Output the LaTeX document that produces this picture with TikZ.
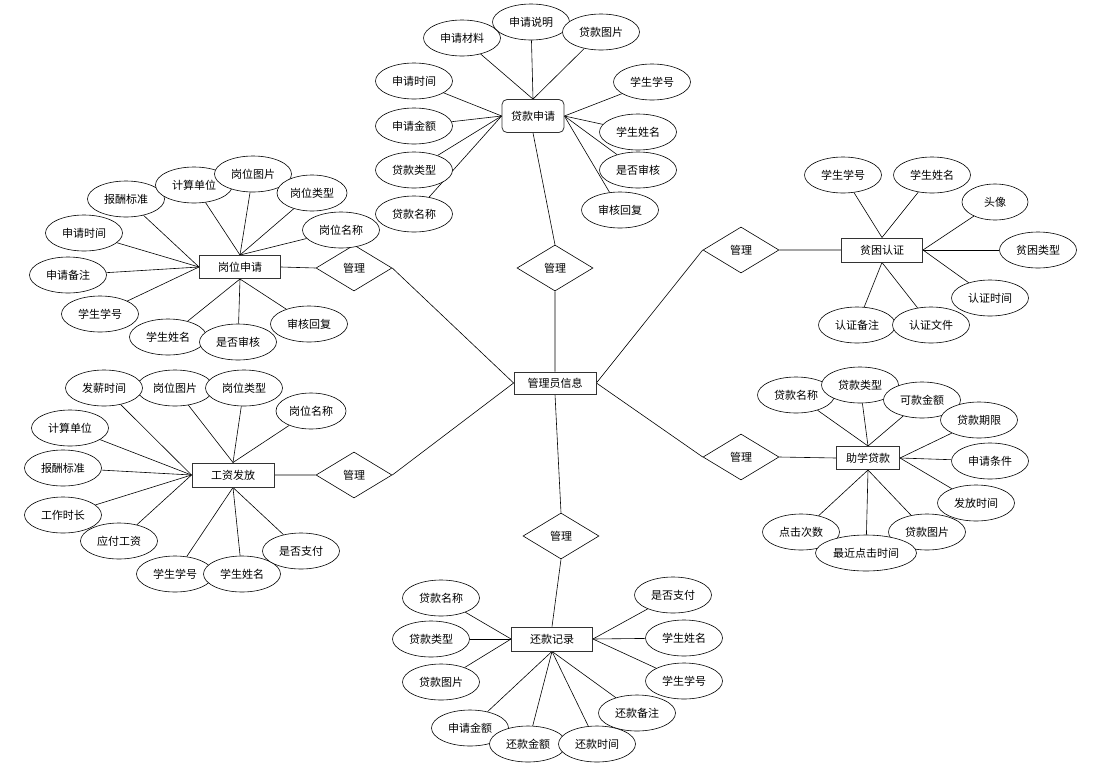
\documentclass[tikz,border=0pt]{standalone}
\usepackage{fontspec}
\newfontfamily\cjk{Noto Sans CJK SC}
\usetikzlibrary{shapes.geometric}
\pgfdeclarelayer{bg}
\pgfsetlayers{bg,main}
\begin{document}
\begin{tikzpicture}[x=1pt,y=-1pt,
  txt/.style={font=\cjk\fontsize{11}{13}\selectfont},
  attr/.style={ellipse, draw, fill=white, line width=0.6pt, minimum width=77pt, minimum height=36pt, inner sep=0pt, txt},
  ent/.style={rectangle, draw=black!80, line width=1pt, fill=white, minimum width=81pt, minimum height=23pt, inner sep=0pt, txt},
  rel/.style={diamond, draw, fill=white, line width=0.6pt, minimum width=76pt, minimum height=46pt, inner sep=0pt, txt},
  conn/.style={draw, line width=0.6pt}]
\useasboundingbox (0,0) rectangle (1104,777);

% central entity and relations
\node[ent, minimum width=82pt, minimum height=22pt, line width=0.8pt] (admin) at (555,383) {管理员信息};
\node[rel] (r1) at (555,268) {管理};
\node[rel] (r2) at (354,268) {管理};
\node[rel] (r3) at (354,475) {管理};
\node[rel] (r4) at (741,250) {管理};
\node[rel] (r5) at (741,457) {管理};
\node[rel] (r6) at (561,536) {管理};

% entities
\node[ent, rounded corners=5pt, minimum width=62pt, minimum height=33pt, line width=0.8pt] (dk) at (533,116) {贷款申请};
\node[ent] (gw) at (240,267) {岗位申请};
\node[ent, minimum width=82pt, minimum height=24pt] (gz) at (233,475) {工资发放};
\node[ent, minimum height=24pt] (pk) at (882,250) {贫困认证};
\node[ent, minimum width=63pt] (zx) at (868,458) {助学贷款};
\node[ent, minimum height=24pt, line width=0.8pt] (hk) at (552,639) {还款记录};

% 贷款申请 attributes
\node[attr] (dk1) at (462,38) {申请材料};
\node[attr] (dk2) at (531,22) {申请说明};
\node[attr] (dk3) at (601,32) {贷款图片};
\node[attr] (dk4) at (414,81) {申请时间};
\node[attr] (dk5) at (414,126) {申请金额};
\node[attr] (dk6) at (414,170) {贷款类型};
\node[attr] (dk7) at (414,214) {贷款名称};
\node[attr] (dk8) at (652,82) {学生学号};
\node[attr] (dk9) at (638,132) {学生姓名};
\node[attr] (dk10) at (638,170) {是否审核};
\node[attr] (dk11) at (620,210) {审核回复};

% 岗位申请 attributes
\node[attr] (gw1) at (126,199) {报酬标准};
\node[attr] (gw2) at (194,185) {计算单位};
\node[attr] (gw3) at (253,174) {岗位图片};
\node[attr, minimum width=70pt] (gw4) at (312,193) {岗位类型};
\node[attr] (gw5) at (341,230) {岗位名称};
\node[attr] (gw6) at (84,233) {申请时间};
\node[attr] (gw7) at (68,275) {申请备注};
\node[attr] (gw8) at (100,314) {学生学号};
\node[attr] (gw9) at (168,337) {学生姓名};
\node[attr] (gw10) at (238,342) {是否审核};
\node[attr] (gw11) at (309,324) {审核回复};

% 工资发放 attributes
\node[attr] (gz2) at (175,388) {岗位图片};
\node[attr] (gz1) at (104,388) {发薪时间};
\node[attr] (gz3) at (244,388) {岗位类型};
\node[attr, minimum width=70pt] (gz4) at (311,411) {岗位名称};
\node[attr] (gz5) at (70,428) {计算单位};
\node[attr] (gz6) at (63,468) {报酬标准};
\node[attr] (gz7) at (63,515) {工作时长};
\node[attr] (gz8) at (119,541) {应付工资};
\node[attr] (gz9) at (175,574) {学生学号};
\node[attr] (gz10) at (242,574) {学生姓名};
\node[attr] (gz11) at (301,551) {是否支付};

% 贫困认证 attributes
\node[attr] (pk1) at (843,175) {学生学号};
\node[attr] (pk2) at (932,175) {学生姓名};
\node[attr, minimum width=66pt] (pk3) at (995,202) {头像};
\node[attr] (pk4) at (1038,250) {贫困类型};
\node[attr] (pk5) at (990,298) {认证时间};
\node[attr] (pk6) at (857,325) {认证备注};
\node[attr] (pk7) at (931,325) {认证文件};

% 助学贷款 attributes
\node[attr] (zx1) at (796,395) {贷款名称};
\node[attr] (zx2) at (860,385) {贷款类型};
\node[attr] (zx3) at (922,400) {可款金额};
\node[attr] (zx4) at (979,420) {贷款期限};
\node[attr] (zx5) at (990,461) {申请条件};
\node[attr] (zx6) at (976,503) {发放时间};
\node[attr] (zx7) at (801,532) {点击次数};
\node[attr] (zx8) at (927,532) {贷款图片};
\node[attr, minimum width=101pt] (zx9) at (866,553) {最近点击时间};

% 还款记录 attributes
\node[attr] (hk1) at (441,598) {贷款名称};
\node[attr] (hk2) at (431,639) {贷款类型};
\node[attr] (hk3) at (441,682) {贷款图片};
\node[attr] (hk4) at (673,595) {是否支付};
\node[attr] (hk5) at (684,638) {学生姓名};
\node[attr] (hk6) at (684,681) {学生学号};
\node[attr] (hk7) at (470,728) {申请金额};
\node[attr] (hk8) at (528,744) {还款金额};
\node[attr] (hk9) at (597,744) {还款时间};
\node[attr] (hk10) at (637,713) {还款备注};

\begin{pgfonlayer}{bg}
\fill[white] (0,0) rectangle (1104,777);
% relations
\path[conn] (admin.north) -- (r1.south) (r1.north) -- (dk.south);
\path[conn] (admin.west) -- (r2.east) (r2.west) -- (gw.east);
\path[conn] (admin.west) -- (r3.east) (r3.west) -- (gz.east);
\path[conn] (admin.east) -- (r4.west) (r4.east) -- (pk.west);
\path[conn] (admin.east) -- (r5.west) (r5.east) -- (zx.west);
\path[conn] (admin.south) -- (r6.north) (r6.south) -- (hk.north);
% 贷款申请
\foreach \a in {dk1,dk2,dk3} \path[conn] (\a) -- (dk.north);
\foreach \a in {dk4,dk5,dk6,dk7} \path[conn] (\a) -- (dk.west);
\foreach \a in {dk8,dk9,dk10,dk11} \path[conn] (\a) -- (dk.east);
% 岗位申请
\foreach \a in {gw1,gw6,gw7,gw8} \path[conn] (\a) -- (gw.west);
\foreach \a in {gw2,gw3,gw4,gw5} \path[conn] (\a) -- (gw.north);
\foreach \a in {gw9,gw10,gw11} \path[conn] (\a) -- (gw.south);
% 工资发放
\foreach \a in {gz1,gz5,gz6,gz7,gz8} \path[conn] (\a) -- (gz.west);
\foreach \a in {gz2,gz3,gz4} \path[conn] (\a) -- (gz.north);
\foreach \a in {gz9,gz10,gz11} \path[conn] (\a) -- (gz.south);
% 贫困认证
\foreach \a in {pk1,pk2} \path[conn] (\a) -- (pk.north);
\foreach \a in {pk3,pk4,pk5} \path[conn] (\a) -- (pk.east);
\foreach \a in {pk6,pk7} \path[conn] (\a) -- (pk.south);
% 助学贷款
\foreach \a in {zx1,zx2,zx3} \path[conn] (\a) -- (zx.north);
\foreach \a in {zx4,zx5,zx6} \path[conn] (\a) -- (zx.east);
\foreach \a in {zx7,zx8,zx9} \path[conn] (\a) -- (zx.south);
% 还款记录
\foreach \a in {hk1,hk2,hk3} \path[conn] (\a) -- (hk.west);
\foreach \a in {hk4,hk5,hk6} \path[conn] (\a) -- (hk.east);
\foreach \a in {hk7,hk8,hk9,hk10} \path[conn] (\a) -- (hk.south);
\end{pgfonlayer}
\end{tikzpicture}
\end{document}
